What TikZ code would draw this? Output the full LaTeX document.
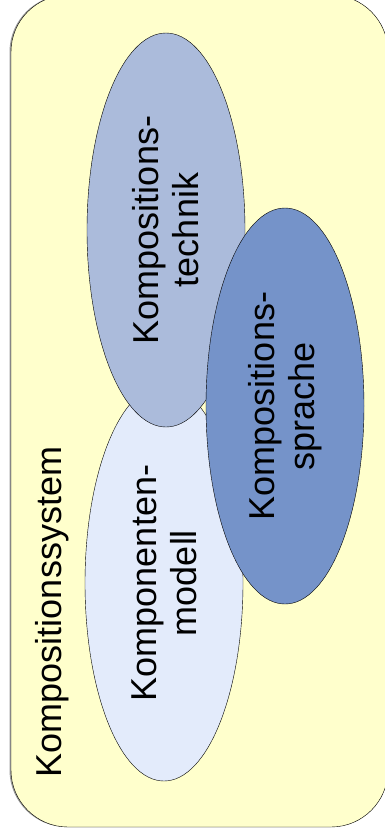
\documentclass[tikz,border=0pt]{standalone}
\usepackage{fontspec}
\setmainfont{Liberation Sans}
\usepackage{tikz}
\usetikzlibrary{shapes.geometric,positioning}
\definecolor{sysyellow}{HTML}{FFFFCC}
\definecolor{technikblue}{HTML}{ABBBDB}
\definecolor{spracheblue}{HTML}{7593C9}
\definecolor{modellblue}{HTML}{E3EBFB}

\begin{document}
\begin{tikzpicture}[x=1pt, y=-1pt,
    blob/.style={ellipse, draw=black, thin, minimum width=394pt, minimum height=158pt,
                 rotate=90, align=center, inner sep=0pt},
    every node/.style={font=\fontsize{36}{40}\selectfont}]
    \useasboundingbox (0,0) rectangle (385,836);

    % Outer system box (with a faint shadow on the left)
    \fill[gray!80, rounded corners=57pt] (9.5,-5) rectangle (388,827);
    \draw[thin, fill=sysyellow, rounded corners=57pt] (11,-5) rectangle (388,827);
    \node[rotate=90, inner sep=0pt] (system) at (52,612) {Kompositionssystem};

    % Three overlapping ellipses
    \node[blob, fill=modellblue, minimum width=396pt] (modell) at (164,583) {Komponenten-\\modell};
    \node[blob, fill=technikblue] (technik) at (166,230) {Kompositions-\\technik};
    \node[blob, fill=spracheblue, minimum width=396pt] (sprache) at (285,406) {Kompositions-\\sprache};
\end{tikzpicture}
\end{document}
